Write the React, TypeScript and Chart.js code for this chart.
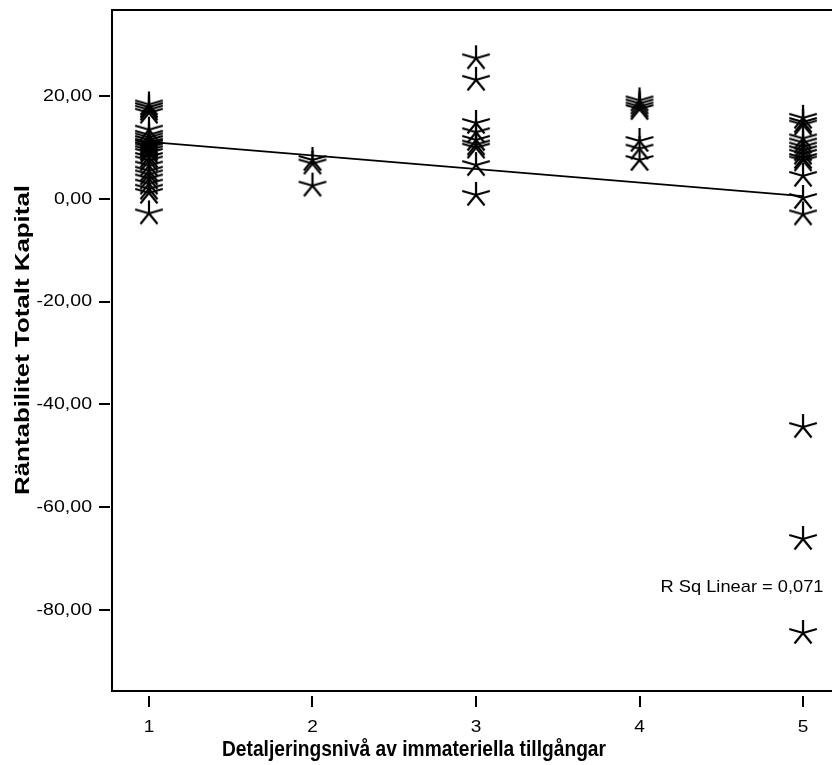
import React, { useEffect, useRef } from "react";
import { Chart, registerables } from "chart.js";

Chart.register(...registerables);

const categories = [1, 2, 3, 4, 5];
const level1 = [18.4, 17.9, 17.4, 16.8, 13.5, 12.5, 12.0, 11.5, 11.0, 10.7, 10.3, 10.0, 9.5, 9.0, 8.2, 7.5, 6.5, 5.5, 4.8, 4.0, 3.0, 2.0, 1.2, -2.8];
const level2 = [7.6, 6.9, 2.6];
const level3 = [27.4, 23.2, 14.8, 13.0, 11.5, 10.6, 10.0, 6.6, 0.8];
const level4 = [19.2, 18.6, 18.0, 17.5, 11.3, 9.8, 7.6];
const level5 = [15.8, 15.0, 14.5, 11.8, 11.0, 10.2, 9.5, 8.8, 8.0, 7.5, 4.5, 0.2, -3.0, -44.4, -66.2, -84.5];
const groups = [level1, level2, level3, level4, level5];
const yTickValues = [-80, -60, -40, -20, 0, 20];
const xTickValues = [1, 2, 3, 4, 5];
const xTitle = "Detaljeringsnivå av immateriella tillgångar";
const yTitle = "Räntabilitet Totalt Kapital";
const rsqLabel = "R Sq Linear = 0,071";

const FONT = "'Liberation Sans', Arial, Helvetica, sans-serif";

function makeStar(): HTMLCanvasElement {
  const c = document.createElement("canvas");
  c.width = 32;
  c.height = 30;
  const g = c.getContext("2d")!;
  const cx = 16, cy = 15, rx = 14.5, ry = 13;
  g.strokeStyle = "#000";
  g.lineWidth = 2.2;
  g.lineCap = "butt";
  g.beginPath();
  for (let k = 0; k < 5; k++) {
    const a = -Math.PI / 2 + (k * 2 * Math.PI) / 5;
    g.moveTo(cx, cy);
    g.lineTo(cx + rx * Math.cos(a), cy + ry * Math.sin(a));
  }
  g.stroke();
  return c;
}

function fitText(ctx: CanvasRenderingContext2D, text: string, font: string, cx: number, cy: number, targetW: number, rotate: boolean) {
  ctx.save();
  ctx.font = font;
  const w = ctx.measureText(text).width;
  const s = targetW / w;
  ctx.translate(cx, cy);
  if (rotate) ctx.rotate(-Math.PI / 2);
  ctx.scale(s, 1);
  ctx.fillStyle = "#000";
  ctx.textAlign = "center";
  ctx.textBaseline = "middle";
  ctx.fillText(text, 0, 0);
  ctx.restore();
}

function wideText(ctx: CanvasRenderingContext2D, text: string, x: number, y: number, align: CanvasTextAlign, sx: number) {
  ctx.save();
  ctx.translate(x, y);
  ctx.scale(sx, 1);
  ctx.textAlign = align;
  ctx.fillText(text, 0, 0);
  ctx.restore();
}

const fmtY = (v: number) => v.toFixed(2).replace(".", ",");

export default function App() {
  const ref = useRef<HTMLCanvasElement | null>(null);
  useEffect(() => {
    if (!ref.current) return;
    const points: { x: number; y: number }[] = [];
    groups.forEach((g, i) => g.forEach((v) => points.push({ x: categories[i], y: v })));
    const n = points.length;
    const mx = points.reduce((s, p) => s + p.x, 0) / n;
    const my = points.reduce((s, p) => s + p.y, 0) / n;
    let sxy = 0, sxx = 0;
    points.forEach((p) => {
      sxy += (p.x - mx) * (p.y - my);
      sxx += (p.x - mx) * (p.x - mx);
    });
    const slope = sxy / sxx;
    const icpt = my - slope * mx;
    const x0 = categories[0], x1 = categories[categories.length - 1];
    const fit = [
      { x: x0, y: icpt + slope * x0 },
      { x: x1, y: icpt + slope * x1 },
    ];
    const star = makeStar();

    const framePlugin = {
      id: "frame",
      afterDraw(chart: any) {
        const { ctx, chartArea } = chart;
        const xs = chart.scales.x;
        const ys = chart.scales.y;
        ctx.save();
        ctx.strokeStyle = "#000";
        ctx.lineWidth = 2;
        ctx.beginPath();
        ctx.moveTo(chartArea.right + 5, chartArea.top);
        ctx.lineTo(chartArea.left, chartArea.top);
        ctx.lineTo(chartArea.left, chartArea.bottom);
        ctx.lineTo(chartArea.right + 5, chartArea.bottom);
        ctx.stroke();
        ctx.beginPath();
        xTickValues.forEach((v) => {
          const px = Math.round(xs.getPixelForValue(v));
          ctx.moveTo(px, chartArea.bottom + 5);
          ctx.lineTo(px, chartArea.bottom + 16);
        });
        yTickValues.forEach((v) => {
          const py = Math.round(ys.getPixelForValue(v));
          ctx.moveTo(chartArea.left - 13, py);
          ctx.lineTo(chartArea.left - 2, py);
        });
        ctx.stroke();
        ctx.fillStyle = "#000";
        ctx.font = `17px ${FONT}`;
        ctx.textBaseline = "middle";
        xTickValues.forEach((v) => {
          wideText(ctx, String(v), xs.getPixelForValue(v), chartArea.bottom + 36, "center", 1.12);
        });
        yTickValues.forEach((v) => {
          wideText(ctx, fmtY(v), chartArea.left - 20, ys.getPixelForValue(v), "right", 1.15);
        });
        fitText(ctx, xTitle, `bold 22px ${FONT}`, 414, 750, 384, false);
        fitText(ctx, yTitle, `bold 21px ${FONT}`, 23, 340, 310, true);
        fitText(ctx, rsqLabel, `17px ${FONT}`, 742, 587, 163, false);
        ctx.restore();
      },
    };

    const chart = new Chart(ref.current, {
      type: "scatter",
      data: {
        datasets: [
          {
            data: points,
            pointStyle: star as any,
            pointRadius: 14,
            backgroundColor: "#000",
            borderColor: "#000",
          },
          {
            data: fit,
            showLine: true,
            pointRadius: 0,
            borderColor: "#000",
            borderWidth: 1.6,
          } as any,
        ],
      },
      options: {
        animation: false,
        responsive: true,
        maintainAspectRatio: false,
        events: [],
        layout: { autoPadding: false, padding: { top: 10, left: 0, right: 0, bottom: 0 } },
        plugins: { legend: { display: false }, tooltip: { enabled: false } },
        scales: {
          x: {
            type: "linear",
            min: 0.774,
            max: 5.177,
            grid: { display: false },
            border: { display: false },
            ticks: { display: false },
            afterFit: (s: any) => { s.height = 74; },
            afterBuildTicks: (s: any) => { s.ticks = xTickValues.map((v) => ({ value: v })); },
          },
          y: {
            type: "linear",
            min: -95.8,
            max: 36.8,
            grid: { display: false },
            border: { display: false },
            ticks: { display: false },
            afterFit: (s: any) => { s.width = 112; },
            afterBuildTicks: (s: any) => { s.ticks = yTickValues.map((v) => ({ value: v })); },
          },
        },
      },
      plugins: [framePlugin],
    });
    return () => chart.destroy();
  }, []);

  return (
    <div style={{ position: "fixed", left: 0, top: 0, width: 832, height: 765, overflow: "hidden", background: "#fff" }}>
      <canvas ref={ref} />
    </div>
  );
}
